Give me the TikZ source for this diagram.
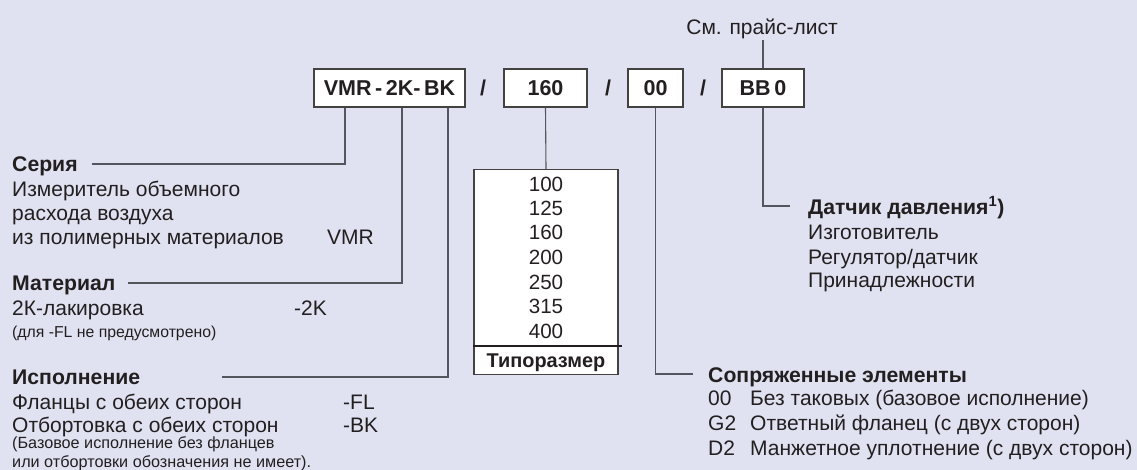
\documentclass[tikz,border=0pt]{standalone}
\usepackage{fontspec}
\setmainfont{Liberation Sans}
\definecolor{bg}{HTML}{E0E2F1}
\definecolor{ink}{HTML}{231F20}
\definecolor{conn}{HTML}{55555D}
\tikzset{
  codebox/.style={draw=ink!85, line width=1.1pt, fill=white, minimum height=38pt, inner sep=0pt,
    font=\fontsize{21.5}{24}\selectfont\bfseries, text=ink},
  slash/.style={font=\fontsize{21.5}{24}\selectfont\bfseries, text=ink, inner sep=0pt},
  lbl/.style={anchor=west, inner sep=0pt, text height=15pt, text depth=0pt,
    font=\fontsize{21}{24}\selectfont, text=ink},
  hdr/.style={lbl, font=\fontsize{21.2}{24}\selectfont\bfseries},
  small/.style={lbl, text height=11.6pt, font=\fontsize{16.2}{18}\selectfont},
  note/.style={lbl, text height=11.3pt, font=\fontsize{15.8}{18}\selectfont},
  num/.style={lbl, anchor=center, font=\fontsize{20.6}{24}\selectfont},
  wire/.style={draw=conn, line width=1.1pt},
}
\begin{document}
\begin{tikzpicture}[x=1pt,y=-1pt]
\fill[bg] (0,0) rectangle (1137,470);
\useasboundingbox (0,0) rectangle (1137,470);

% top code boxes
\node[codebox, minimum width=151pt] (vmr) at (389.5,88) {VMR\,-\,2K-\,BK};
\node[slash] (s1) at (483,88) {/};
\node[codebox, minimum width=83pt] (dn) at (545.5,88) {160};
\node[slash] (s2) at (608,88) {/};
\node[codebox, minimum width=55pt] (acc) at (655.5,88) {00};
\node[slash] (s3) at (703,88) {/};
\node[codebox, minimum width=82pt] (bb) at (763,88) {BB\,0};
\node[lbl, anchor=center] (price) at (762,27) {См. прайс-лист};
\coordinate (pricebot) at (763,40);
\draw[wire] (pricebot) -- (bb.north);

% left column
\node[hdr] (seria) at (12,164) {Серия};
\node[lbl] (s1a) at (12,189) {Измеритель объемного};
\node[lbl] (s1b) at (12,213) {расхода воздуха};
\node[lbl] (s1c) at (12,237) {из полимерных материалов};
\node[lbl] (s1v) at (327,237) {VMR};

\node[hdr] (mat) at (12,283) {Материал};
\node[lbl] (m1a) at (12,308) {2К-лакировка};
\node[lbl] (m1v) at (294,308) {-2K};
\node[note] (m1b) at (12,332) {(для -FL не предусмотрено)};

\node[hdr] (isp) at (12,377) {Исполнение};
\node[lbl] (i1a) at (12,402) {Фланцы с обеих сторон};
\node[lbl] (i1v) at (343,402) {-FL};
\node[lbl] (i2a) at (12,425) {Отбортовка с обеих сторон};
\node[lbl] (i2v) at (343,425) {-BK};
\node[small] (i3a) at (12,443) {(Базовое исполнение без фланцев};
\node[small] (i3b) at (12,462) {или отбортовки обозначения не имеет).};

\coordinate (seriaEnd) at (92,164);
\coordinate (matEnd) at (128,283);
\coordinate (ispEnd) at (222,377);
\draw[wire] ([xshift=-44.5pt]vmr.south) |- (seriaEnd);
\draw[wire] ([xshift=12.5pt]vmr.south) |- (matEnd);
\draw[wire] ([xshift=58.5pt]vmr.south) |- (ispEnd);

% size table
\node[draw=ink!85, line width=1.1pt, fill=white, minimum width=144pt, minimum height=205pt, inner sep=0pt, anchor=north] (tab) at (546,169) {};
\draw[ink, line width=1.4pt] (tab.west |- 0,346) -- ([xshift=3pt]tab.east |- 0,346);
\foreach \v/\y [count=\i] in {100/184,125/208,160/232,200/257,250/282,315/306,400/331}
  \node[num] (sz\i) at (546,\y) {\v};
\node[hdr, anchor=center, font=\fontsize{19.9}{22}\selectfont\bfseries] (tp) at (546,360) {Типоразмер};
\draw[wire] (dn.south) -- (tab.north);

% accessories
\coordinate (accEnd) at (693,374);
\draw[wire] (acc.south) |- (accEnd);
\node[hdr] (sop) at (708,375) {Сопряженные элементы};
\node[lbl] (a1c) at (708,398) {00};
\node[lbl] (a1t) at (750,398) {Без таковых (базовое исполнение)};
\node[lbl] (a2c) at (708,423) {G2};
\node[lbl] (a2t) at (750,423) {Ответный фланец (с двух сторон)};
\node[lbl] (a3c) at (708,448) {D2};
\node[lbl] (a3t) at (750,448) {Манжетное уплотнение (с двух сторон)};

% pressure sensor
\coordinate (bbEnd) at (790,206);
\draw[wire] (bb.south) |- (bbEnd);
\node[hdr] (dd) at (808,207) {Датчик давления\textsuperscript{1})};
\node[lbl] (d1) at (808,232) {Изготовитель};
\node[lbl] (d2) at (808,257) {Регулятор/датчик};
\node[lbl] (d3) at (808,280) {Принадлежности};
\end{tikzpicture}
\end{document}
